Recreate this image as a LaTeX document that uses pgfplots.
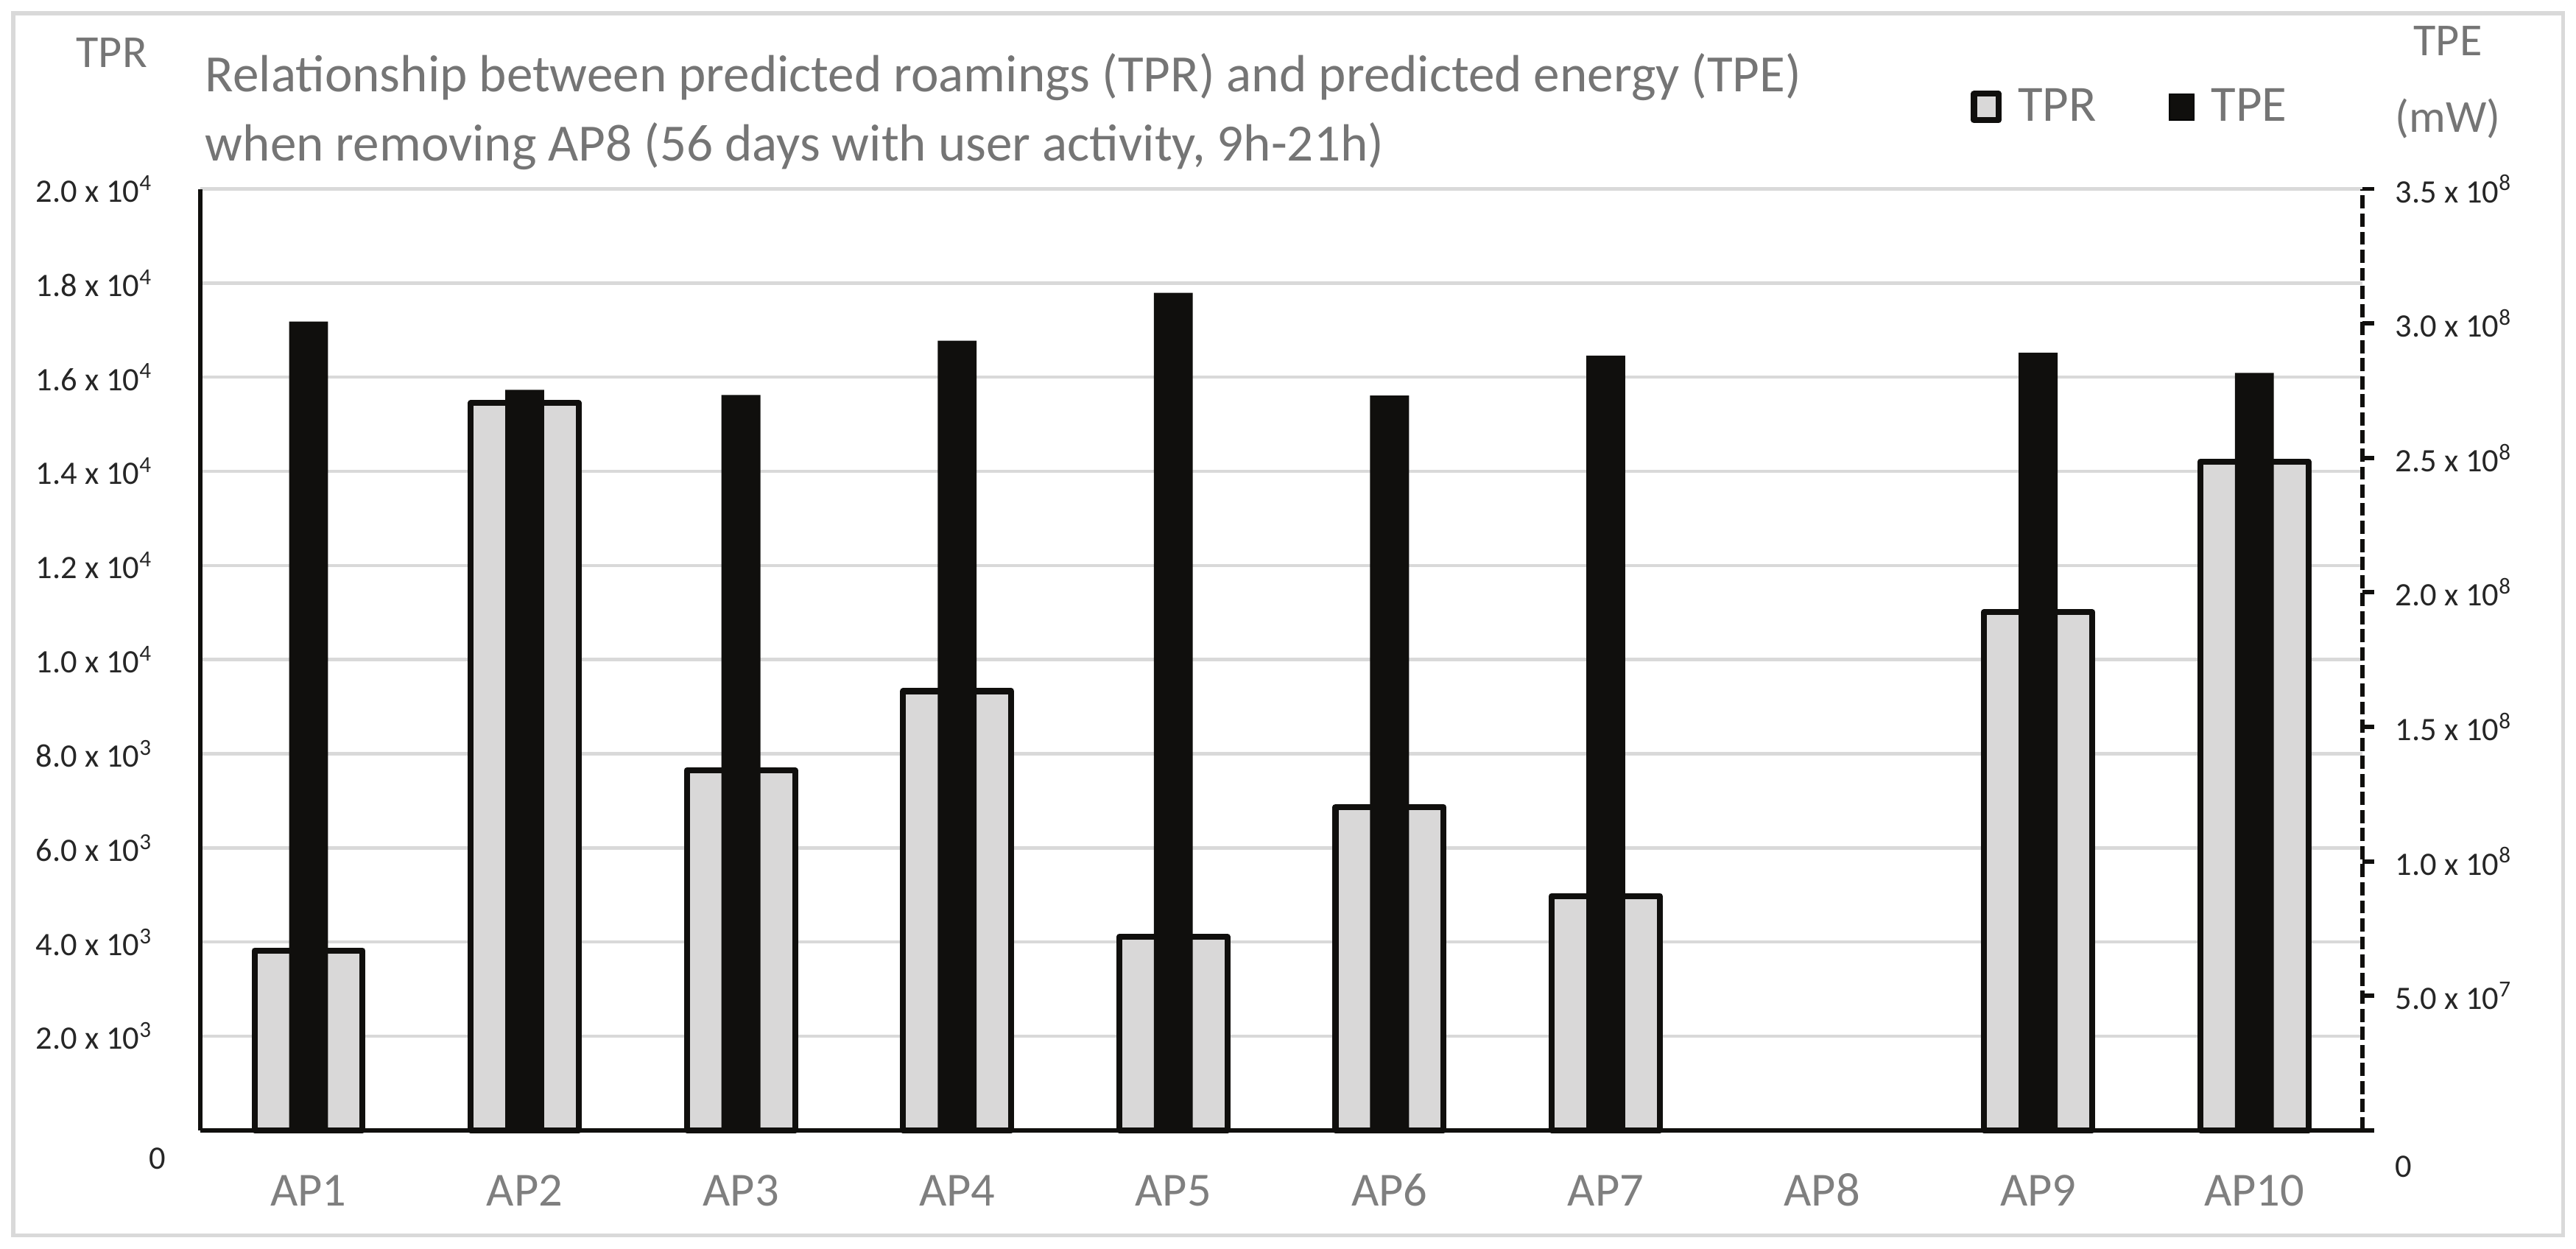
\documentclass[border=0pt]{standalone}
\usepackage{fontspec}
\setmainfont{Carlito}
\usepackage{pgfplots}
\pgfplotsset{compat=1.18}
\definecolor{tprfill}{HTML}{D9D8D8}
\definecolor{barblack}{HTML}{100F0D}
\definecolor{gridgray}{HTML}{D9D9D9}
\definecolor{titlegray}{HTML}{757575}
\definecolor{catgray}{HTML}{7F7F7F}
\definecolor{tickblack}{HTML}{262626}

\pgfplotsset{
  tpr bar/.style={fill=tprfill, draw=barblack, line width=1.8bp, line join=round},
  tpe bar/.style={fill=barblack, draw=none},
  box legend/.style={legend image code/.code={\draw[##1] (0bp,-4bp) rectangle (7.5bp,4bp);}},
}

\begin{document}
\begin{tikzpicture}
\useasboundingbox (0bp,0bp) rectangle (784bp,380bp);
\draw[gridgray, line width=1.2bp] (4bp,4bp) rectangle (780bp,376bp);

% left axis: TPR
\begin{axis}[
  at={(61bp,36bp)}, anchor=south west,
  scale only axis, width=658bp, height=286.5bp,
  xmin=0.5, xmax=10.5, ymin=0, ymax=20000,
  axis x line*=bottom, axis y line*=left,
  x axis line style={line width=1.3bp, barblack},
  y axis line style={line width=1.2bp, barblack},
  xtick={1,2,3,4,5,6,7,8,9,10},
  xticklabels={AP1,AP2,AP3,AP4,AP5,AP6,AP7,AP8,AP9,AP10},
  xticklabel style={anchor=base, yshift=-23bp, font=\fontsize{14.5}{16}\selectfont, text=catgray},
  xtick style={draw=none},
  ytick={2000,4000,6000,8000,10000,12000,14000,16000,18000,20000},
  yticklabels={2.0 x 10\textsuperscript{3},4.0 x 10\textsuperscript{3},6.0 x 10\textsuperscript{3},8.0 x 10\textsuperscript{3},1.0 x 10\textsuperscript{4},1.2 x 10\textsuperscript{4},1.4 x 10\textsuperscript{4},1.6 x 10\textsuperscript{4},1.8 x 10\textsuperscript{4},2.0 x 10\textsuperscript{4}},
  extra y ticks={0}, extra y tick labels={0},
  extra y tick style={ymajorgrids=false, yticklabel style={yshift=-8.5bp, xshift=4bp}},
  yticklabel style={anchor=east, xshift=-11bp, font=\fontsize{10}{12}\selectfont, text=tickblack},
  ytick style={draw=none},
  ymajorgrids, grid style={gridgray, line width=1bp},
  scaled y ticks=false,
  bar width=0.5, clip=false,
]
\addplot[ybar, bar shift=0pt, tpr bar] coordinates {
  (1,3820) (2,15450) (3,7650) (4,9330) (5,4110)
  (6,6870) (7,4980) (9,11010) (10,14210)
};
\end{axis}

% right axis: TPE
\begin{axis}[
  at={(61bp,36bp)}, anchor=south west,
  scale only axis, width=658bp, height=286.5bp,
  xmin=0.5, xmax=10.5, ymin=0, ymax=3.5e8,
  axis x line=none, axis y line*=right,
  y axis line style={line width=1.3bp, barblack, dash pattern=on 4bp off 1.5bp},
  ytick={5e7,1e8,1.5e8,2e8,2.5e8,3e8,3.5e8},
  yticklabels={5.0 x 10\textsuperscript{7},1.0 x 10\textsuperscript{8},1.5 x 10\textsuperscript{8},2.0 x 10\textsuperscript{8},2.5 x 10\textsuperscript{8},3.0 x 10\textsuperscript{8},3.5 x 10\textsuperscript{8}},
  extra y ticks={0}, extra y tick labels={0},
  extra y tick style={yticklabel style={yshift=-11bp}, tick style={line width=1.3bp, barblack, solid}},
  yticklabel style={anchor=west, xshift=3bp, font=\fontsize{10}{12}\selectfont, text=tickblack},
  ytick style={line width=1.3bp, barblack, solid},
  tick align=outside, major tick length=3.5bp,
  scaled y ticks=false,
  bar width=0.18, clip=false,
  legend columns=2,
  legend style={at={(0.8935,1.087)}, anchor=center, draw=none, fill=none,
    font=\fontsize{15.5}{17}\selectfont, text=titlegray,
    /tikz/every odd column/.append style={column sep=3bp},
    /tikz/every even column/.append style={column sep=20bp}},
]
\addlegendimage{tpr bar, box legend}
\addlegendentry{TPR}
\addplot[ybar, bar shift=0pt, tpe bar, box legend] coordinates {
  (1,3.007e8) (2,2.753e8) (3,2.734e8) (4,2.936e8) (5,3.114e8)
  (6,2.732e8) (7,2.880e8) (9,2.891e8) (10,2.816e8)
};
\addlegendentry{TPE}
\end{axis}

\node[anchor=base west, text=titlegray, font=\fontsize{16}{18}\selectfont] at (59bp,352bp)
  {Relationship between predicted roamings (TPR) and predicted energy (TPE)};
\node[anchor=base west, text=titlegray, font=\fontsize{16}{18}\selectfont] at (59bp,331bp)
  {when removing AP8 (56 days with user activity, 9h-21h)};
\node[text=titlegray, font=\fontsize{14}{16}\selectfont] at (34bp,364bp) {TPR};
\node[text=titlegray, font=\fontsize{14}{16}\selectfont] at (745bp,367.5bp) {TPE};
\node[text=titlegray, font=\fontsize{14}{16}\selectfont] at (745bp,344bp) {(mW)};
\end{tikzpicture}
\end{document}
